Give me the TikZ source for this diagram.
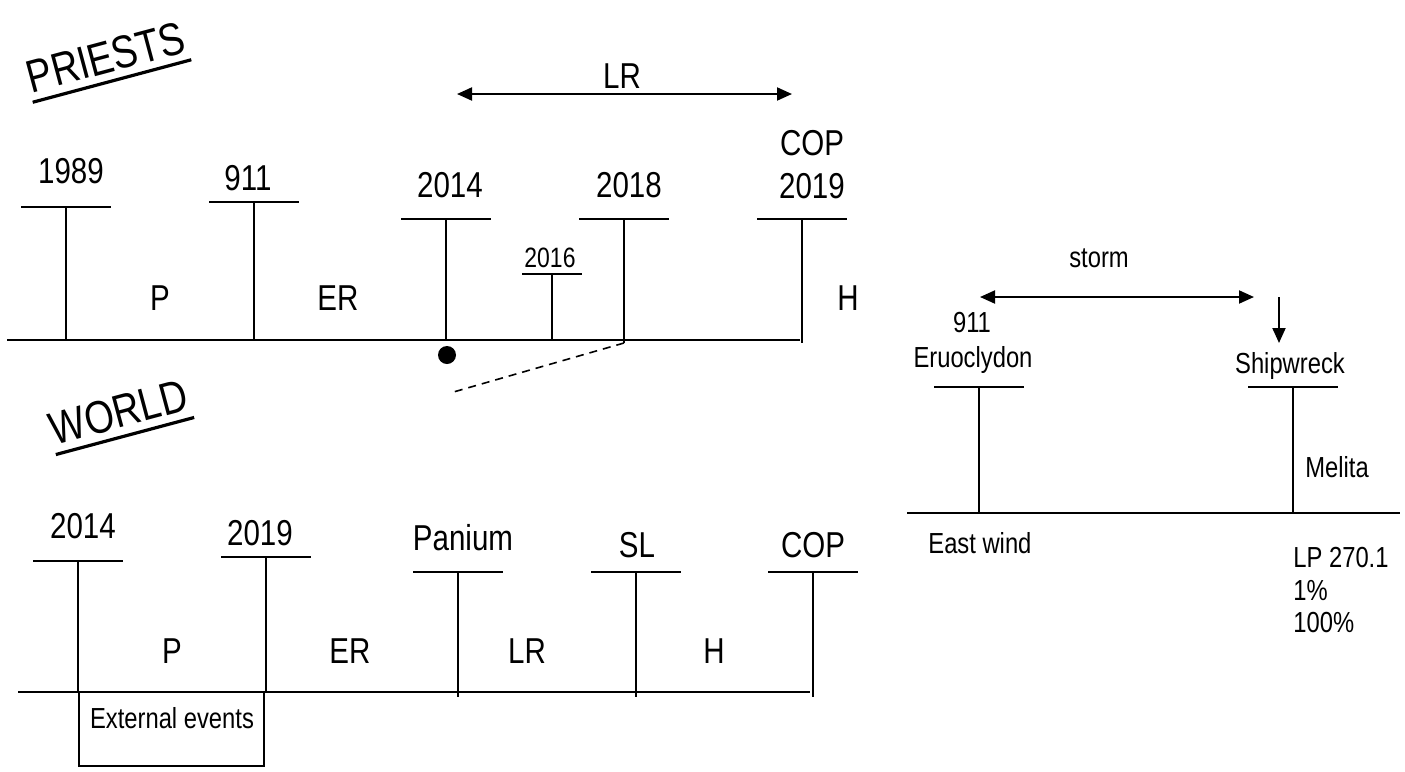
\documentclass[tikz,border=0pt]{standalone}
\usepackage{fontspec}
\setmainfont{Liberation Sans}[FakeStretch=0.82]
\usetikzlibrary{arrows.meta}
\begin{document}
\begin{tikzpicture}[x=0.5pt,y=-0.5pt,
  line/.style={line width=1pt},
  thinbox/.style={draw,line width=0.75pt},
  dbl/.style={line width=1pt,{Triangle[length=7.5pt,width=6.5pt]}-{Triangle[length=7.5pt,width=6.5pt]}},
  single/.style={line width=1pt,-{Triangle[length=7.5pt,width=6.5pt]}},
  big/.style={font=\fontsize{18}{21}\selectfont,inner sep=0pt,anchor=base},
  mid/.style={font=\fontsize{14}{16}\selectfont,inner sep=0pt,anchor=base},
  small/.style={font=\fontsize{14.5}{17}\selectfont,inner sep=0pt,anchor=base},
  smallL/.style={small,anchor=base west},
  title/.style={font=\fontsize{23}{26}\selectfont,rotate=15,anchor=south,inner xsep=0.5pt,inner ysep=4pt},
  uline/.style={line width=1.6pt}]
\useasboundingbox (0,0) rectangle (1405,772);

% titles
\node[title] (priests) at (112,81) {PRIESTS};
\draw[uline] (priests.south west) -- (priests.south east);
\node[title] (world) at (125,436) {WORLD};
\draw[uline] (world.south west) -- (world.south east);

% ticks: name/x/top/bottom/half-width
\foreach \n/\x/\t/\b/\h in {p1989/66/207/340/45, p911/254/202/340/45, p2014/446/219/340/45,
  p2016/552/274/340/30, p2018/624/219/343/45, p2019/802/219/343/45,
  w2014/78/561/692/45, w2019/266/557/692/45, wpan/458/572/697/45, wsl/636/572/697/45, wcop/813/572/697/45,
  r911/979/387/513/45, rship/1293/387/513/45}{
  \coordinate (t\n) at (\x,\t);
  \coordinate (b\n) at (\x,\b);
  \coordinate (l\n) at (\x-\h,\t);
  \coordinate (r\n) at (\x+\h,\t);
  \draw[line] (t\n) -- (b\n);
  \draw[line] (l\n) -- (r\n);
}

% baselines
\coordinate (pL) at (7,340); \coordinate (pR) at (800,340);
\coordinate (wL) at (18,692); \coordinate (wR) at (810,692);
\coordinate (rL) at (907,513); \coordinate (rR) at (1400,513);
\draw[line] (pL) -- (pR);
\draw[line] (wL) -- (wR);
\draw[line] (rL) -- (rR);

% priests labels
\node[big] (l1989) at (71,183) {1989};
\node[big] (l911) at (248,190) {911};
\node[big] (l2014) at (450,197) {2014};
\node[mid] (l2016) at (550,267) {2016};
\node[big] (l2018) at (629,197) {2018};
\node[big] (lcop) at (812,155) {COP};
\node[big] (l2019) at (812,198) {2019};
\node[big] (pP) at (160,310) {P};
\node[big] (pER) at (338,310) {ER};
\node[big] (pH) at (848,310) {H};
\node[big] (pLR) at (622,88) {LR};
\coordinate (lrA) at (457,94); \coordinate (lrB) at (792,94);
\draw[dbl] (lrA) -- (lrB);
\node[circle,fill,inner sep=0pt,minimum size=9pt] (dot) at (447,355) {};
\coordinate (dashEnd) at (450,393);
\draw[line width=0.8pt,dash pattern=on 4pt off 3pt] (bp2018) -- (dashEnd);

% world labels
\node[big] (lw2014) at (83,538) {2014};
\node[big] (lw2019) at (260,545) {2019};
\node[big] (lpan) at (463,550) {Panium};
\node[big] (lsl) at (637,557) {SL};
\node[big] (lwcop) at (813,557) {COP};
\node[big] (wP) at (172,663) {P};
\node[big] (wER) at (350,663) {ER};
\node[big] (wLR) at (527,663) {LR};
\node[big] (wH) at (714,663) {H};
\node[thinbox,minimum width=92.5pt,minimum height=37pt,inner sep=0pt] (ext) at (171.5,729) {};
\node[small] (exttext) at (172,728) {External events};

% right part
\node[small] (storm) at (1099,267) {storm};
\coordinate (stA) at (980,297); \coordinate (stB) at (1254,297);
\draw[dbl] (stA) -- (stB);
\coordinate (dnA) at (1279,297); \coordinate (dnB) at (1279,343);
\draw[single] (dnA) -- (dnB);
\node[small] (r911l) at (972,332) {911};
\node[small] (eru) at (973,367) {Eruoclydon};
\node[small] (ship) at (1290,373) {Shipwreck};
\node[smallL] (melita) at (1305,477) {Melita};
\node[smallL] (east) at (928,553) {East wind};
\node[smallL] (lp) at (1293,567) {LP 270.1};
\node[smallL] (one) at (1293,600) {1\%};
\node[smallL] (hund) at (1293,632) {100\%};
\end{tikzpicture}
\end{document}
